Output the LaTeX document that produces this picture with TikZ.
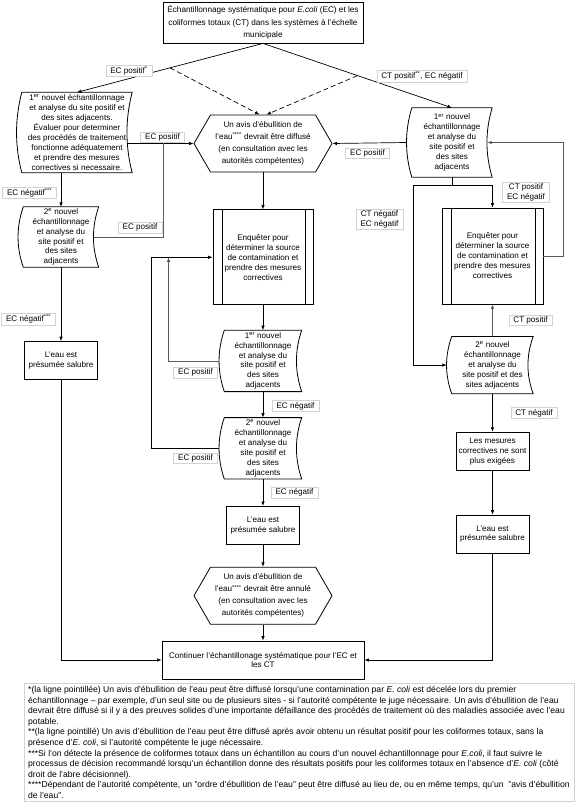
\documentclass[tikz,border=0pt]{standalone}
\usepackage{fontspec}
\setmainfont{Liberation Sans}
\usepackage{tikz}
\usetikzlibrary{arrows.meta,positioning,shapes.symbols,calc}
\definecolor{ecGray}{HTML}{5A5A5A}
\definecolor{ecLabel}{HTML}{D2D2D2}

% curved sides of the sampling shapes
\newcommand{\tapeborder}[1]{%
  \draw[line width=0.8pt] (#1.north west)
    .. controls ($(#1.north west)!.33!(#1.south west)+(-7,0)$) and ($(#1.north west)!.67!(#1.south west)+(-7,0)$) .. (#1.south west)
    -- (#1.south east)
    .. controls ($(#1.south east)!.33!(#1.north east)+(-7,0)$) and ($(#1.south east)!.67!(#1.north east)+(-7,0)$) .. (#1.north east)
    -- cycle;}

\begin{document}
\begin{tikzpicture}[x=1pt,y=1pt,
 font=\fontsize{8.1pt}{9.9pt}\selectfont,
 box/.style={rectangle,draw,line width=0.8pt,align=center,inner sep=1pt},
 tape/.style={rectangle,align=center,inner sep=1pt},
 hexa/.style={signal,signal to=west and east,signal pointer angle=120,draw,line width=0.8pt,
   align=center,minimum width=138pt,minimum height=57pt,inner sep=1pt,font=\fontsize{8.1pt}{12pt}\selectfont},
 proc/.style={box,minimum width=100pt,minimum height=95pt,font=\fontsize{8.1pt}{10pt}\selectfont,
   path picture={\draw[line width=0.8pt] ([xshift=9pt]path picture bounding box.north west) -- ([xshift=9pt]path picture bounding box.south west);
     \draw[line width=0.8pt] ([xshift=-8pt]path picture bounding box.north east) -- ([xshift=-8pt]path picture bounding box.south east);}},
 lbl/.style={draw=ecLabel,fill=white,inner xsep=4.5pt,inner ysep=1.5pt,align=center},
 arr/.style={-{Latex[length=4.5pt,width=3.5pt]},line width=0.7pt},
 back/.style={arr,draw=ecGray},
 dashline/.style={arr,dash pattern=on 5pt off 3pt}]
\useasboundingbox (0,0) rectangle (586,-808);

% top
\node[box,minimum width=200pt,minimum height=41pt,font=\fontsize{8.2pt}{12.4pt}\selectfont] (top) at (263,-22.5)
  {Échantillonnage systématique pour \textit{E.coli} (EC) et les\\coliformes totaux (CT) dans les systèmes à l'échelle\\municipale};

% left column
\node[tape,minimum width=110pt,minimum height=80pt] (L1) at (77,-132.5)
  {1\textsuperscript{er} nouvel échantillonnage\\et analyse du site positif et\\des sites adjacents.\\Évaluer pour determiner\\des procédés de traitement\\fonctionne adéquatement\\et prendre des mesures\\correctives si necessaire.};
\node[tape,minimum width=75pt,minimum height=60pt] (L2) at (61,-237)
  {2\textsuperscript{e} nouvel\\échantillonnage\\et analyse du\\site positif et\\des sites\\adjacents};
\node[box,minimum width=73pt,minimum height=38pt,below=74pt of L2] (S0) {L'eau est\\présumée salubre};

% centre column
\node[hexa] (H1) at (263,-143.5)
  {Un avis d'ébullition de\\l'eau\textsuperscript{****} devrait être diffusé\\(en consultation avec les\\autorités compétentes)};
\node[proc,below=37pt of H1] (E1)
  {Enquêter pour\\déterminer la source\\de contamination et\\prendre des mesures\\correctives};
\node[tape,minimum width=77pt,minimum height=61pt,below=25pt of E1] (C1)
  {1\textsuperscript{er} nouvel\\échantillonnage\\et analyse du\\site positif et\\des sites\\adjacents};
\node[tape,minimum width=77pt,minimum height=61pt,below=26pt of C1] (C2)
  {2\textsuperscript{e} nouvel\\échantillonnage\\et analyse du\\site positif et\\des sites\\adjacents};
\node[box,minimum width=73pt,minimum height=38pt,below=27pt of C2] (S1) {L'eau est\\présumée salubre};
\node[hexa,below=22pt of S1] (H2)
  {Un avis d'ébullition de\\l'eau\textsuperscript{****} devrait être annulé\\(en consultation avec les\\autorités compétentes)};
\node[box,minimum width=202pt,minimum height=38pt,below=16pt of H2,font=\fontsize{8.1pt}{9.6pt}\selectfont] (F)
  {Continuer l'échantillonage systématique pour l'EC et\\les CT};

% right column
\node[tape,minimum width=80pt,minimum height=69pt] (R1) at (452,-142.5)
  {1\textsuperscript{er} nouvel\\échantillonnage\\et analyse du\\site positif et\\des sites\\adjacents};
\node[proc,minimum width=101pt,minimum height=96pt] (E2) at (492.5,-256)
  {Enquêter pour\\déterminer la source\\de contamination et\\prendre des mesures\\correctives};
\node[tape,minimum width=81pt,minimum height=57pt,below=32pt of E2] (R2)
  {2\textsuperscript{e} nouvel\\échantillonnage\\et analyse du\\site positif et des\\sites adjacents};
\node[box,minimum width=73pt,minimum height=38pt,below=38pt of R2] (M) {Les mesures\\correctives ne sont\\plus exigées};
\node[box,minimum width=73pt,minimum height=38pt,below=44pt of M] (S2) {L'eau est\\présumée salubre};

\foreach \n in {L1,L2,C1,C2,R1,R2} {\tapeborder{\n}}

% connectors
\draw[arr] (top.south) -- (L1.north);
\draw[arr] (top.south) -- (R1.north);
\coordinate (dA) at ($(top.south)!.5!(L1.north)$);
\coordinate (dB) at ($(top.south)!.5!(R1.north)$);
\draw[dashline] (dA) -- ([xshift=-3.5pt]H1.north);
\draw[dashline] (dB) -- ([xshift=3.5pt]H1.north);
\draw[arr] ([xshift=-5pt]H1.west -| L1.east) -- (H1.west);
\draw[back] ([xshift=-5pt]L2.east) -| ($(L1.east)!.5!(H1.west)$);
\draw[arr] (L2.north |- L1.south) -- (L2.north);
\draw[arr] (L2.south) -- (S0.north);
\draw[arr] (S0.south) |- (F.west);
\draw[arr] (H1.south) -- (E1.north);
\draw[arr] (E1.south) -- (C1.north);
\draw[arr] (C1.south) -- (C2.north);
\draw[arr] (C2.south) -- (S1.north);
\draw[arr] (S1.south) -- (H2.north);
\draw[arr] (H2.south) -- (F.north);
\draw[back] ([xshift=-5pt]C1.west) -| ([xshift=-44pt]E1.west);
\draw[arr] ([xshift=-5pt]C2.west) -- ++(-68,0) |- (E1.west);
\draw[arr] ([xshift=-5pt]R1.west) -- (H1.east);
\draw (R1.south) -- ++(0,-8) coordinate (split);
\draw[arr] (split) -| (E2.north);
\draw[arr] (split) -- ++(-39,0) |- ([xshift=-5pt]R2.west);
\draw[back] (E2.east) -- ++(20,0) |- ([xshift=-5pt]R1.east);
\draw[back] (R2.north) -- (E2.south);
\draw[arr] (R2.south) -- (M.north);
\draw[arr] (M.south) -- (S2.north);
\draw[arr] (S2.south) |- (F.east);

% labels
\node[lbl] at (129,-70.5) {EC positif\textsuperscript{*}};
\node[lbl] at (422,-76) {CT positif\textsuperscript{**}, EC négatif};
\node[lbl] at (162.5,-137) {EC positif};
\node[lbl] at (29.5,-192.5) {EC négatif\textsuperscript{***}};
\node[lbl] at (140,-227.5) {EC positif};
\node[lbl] at (28.5,-319) {EC négatif\textsuperscript{***}};
\node[lbl] at (195.5,-372.5) {EC positif};
\node[lbl] at (295.5,-406) {EC négatif};
\node[lbl] at (195.5,-458) {EC positif};
\node[lbl] at (294.5,-492.5) {EC négatif};
\node[lbl] at (367.5,-153) {EC positif};
\node[lbl] at (526,-192) {CT positif\\EC négatif};
\node[lbl] at (379.5,-219) {CT négatif\\EC négatif};
\node[lbl] at (530.5,-320) {CT positif};
\node[lbl] at (534,-413) {CT négatif};

% notes
\node[draw=ecLabel,anchor=north west,align=left,minimum width=546pt,inner xsep=4pt,inner ysep=3pt,
  font=\fontsize{8.6pt}{10.6pt}\selectfont] (notes) at (24,-683)
  {*(la ligne pointillée) Un avis d'ébullition de l'eau peut être diffusé lorsqu'une contamination par \textit{E. coli} est décelée lors du premier\\
   échantillonnage -- par exemple, d'un seul site ou de plusieurs sites - si l'autorité compétente le juge nécessaire. Un avis d'ébullition de l'eau\\
   devrait être diffusé si il y a des preuves solides d'une importante défaillance des procédés de traitement où des maladies associée avec l'eau\\
   potable.\\
   **(la ligne pointillé) Un avis d'ébullition de l'eau peut être diffusé après avoir obtenu un résultat positif pour les coliformes totaux, sans la\\
   présence d'\textit{E. coli}, si l'autorité compétente le juge nécessaire.\\
   ***Si l'on détecte la présence de coliformes totaux dans un échantillon au cours d'un nouvel échantillonnage pour \textit{E.coli}, il faut suivre le\\
   processus de décision recommandé lorsqu'un échantillon donne des résultats positifs pour les coliformes totaux en l'absence d'\textit{E. coli} (côté\\
   droit de l'abre décisionnel).\\
   ****Dépendant de l'autorité compétente, un "ordre d'ébullition de l'eau" peut être diffusé au lieu de, ou en même temps, qu'un\ \ "avis d'ébullition\\
   de l'eau".};
\end{tikzpicture}
\end{document}
